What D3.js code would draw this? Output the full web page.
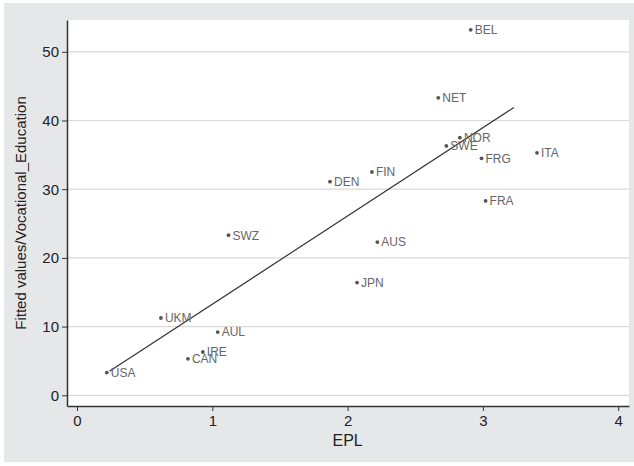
<!DOCTYPE html>
<html lang="en">
<head>
  <meta charset="UTF-8">
  <title>EPL vs Vocational Education</title>
  <script src="https://d3js.org/d3.v7.min.js"></script>
  <style>
    body { margin: 0; background: #fff; font-family: "Liberation Sans", Arial, sans-serif; }
    svg { display: block; }
  </style>
</head>
<body>
  <div id="vis"></div>

  <script>
    const countries = ["BEL", "NET", "NOR", "SWE", "FRG", "ITA", "FIN", "DEN", "FRA",
                       "AUS", "JPN", "SWZ", "UKM", "AUL", "IRE", "CAN", "USA"];
    const epl = [2.91, 2.67, 2.83, 2.73, 2.99, 3.40, 2.18, 1.87, 3.02,
                 2.22, 2.07, 1.12, 0.62, 1.04, 0.93, 0.82, 0.22];
    const vocEd = [53.2, 43.3, 37.5, 36.3, 34.5, 35.3, 32.5, 31.1, 28.3,
                   22.3, 16.4, 23.3, 11.25, 9.2, 6.3, 5.3, 3.3];
    // fitted values line, ends
    const fitX = [0.24, 3.23];
    const fitY = [3.5, 41.9];
    const xTicks = [0, 1, 2, 3, 4];
    const yTicks = [0, 10, 20, 30, 40, 50];

    const W = 634, H = 466;
    const plot = { left: 67, right: 629, top: 20, bottom: 406 };

    const svg = d3.select("#vis").append("svg")
      .attr("width", W)
      .attr("height", H);

    // outer gray panel
    svg.append("rect")
      .attr("x", 4).attr("y", 3)
      .attr("width", W - 4).attr("height", 459)
      .attr("fill", "#e6e7e9");

    svg.append("rect")
      .attr("x", plot.left).attr("y", plot.top)
      .attr("width", plot.right - plot.left).attr("height", plot.bottom - plot.top)
      .attr("fill", "#fff");

    const x = d3.scaleLinear()
      .domain([-0.074, 4.08])
      .range([plot.left, plot.right]);

    const y = d3.scaleLinear()
      .domain([-1.56, 54.63])
      .range([plot.bottom, plot.top]);

    // gridlines
    svg.append("g")
      .selectAll("line")
      .data(yTicks)
      .enter().append("line")
      .attr("x1", plot.left).attr("x2", plot.right)
      .attr("y1", d => y(d)).attr("y2", d => y(d))
      .attr("stroke", "#d9d9d9")
      .attr("stroke-width", 1.2);

    // axes
    const yAxis = svg.append("g")
      .attr("transform", `translate(${plot.left},0)`)
      .call(d3.axisLeft(y).tickValues(yTicks).tickFormat(d3.format("d"))
        .tickSize(5).tickPadding(3).tickSizeOuter(0));

    const xAxis = svg.append("g")
      .attr("transform", `translate(0,${plot.bottom})`)
      .call(d3.axisBottom(x).tickValues(xTicks).tickFormat(d3.format("d"))
        .tickSize(5).tickPadding(4).tickSizeOuter(0));

    [yAxis, xAxis].forEach(ax => {
      ax.select(".domain").attr("stroke", "#333").attr("stroke-width", 1.5);
      ax.selectAll(".tick line").attr("stroke", "#333").attr("stroke-width", 1);
      ax.selectAll(".tick text")
        .attr("fill", "#222")
        .style("font-size", "15px")
        .style("font-family", "Liberation Sans, Arial, sans-serif");
    });

    // axis titles
    svg.append("text")
      .attr("transform", `translate(26,${(plot.top + plot.bottom) / 2}) rotate(-90)`)
      .attr("text-anchor", "middle")
      .attr("fill", "#222")
      .style("font-size", "15px")
      .text("Fitted values/Vocational_Education");

    svg.append("text")
      .attr("x", x(2))
      .attr("y", 446)
      .attr("text-anchor", "middle")
      .attr("fill", "#222")
      .style("font-size", "16px")
      .text("EPL");

    // fitted line
    svg.append("line")
      .attr("x1", x(fitX[0])).attr("y1", y(fitY[0]))
      .attr("x2", x(fitX[1])).attr("y2", y(fitY[1]))
      .attr("stroke", "#333")
      .attr("stroke-width", 1.2);

    // points and labels
    const pts = countries.map((c, i) => ({ c, x: epl[i], y: vocEd[i] }));

    svg.append("g")
      .selectAll("circle")
      .data(pts)
      .enter().append("circle")
      .attr("cx", d => x(d.x))
      .attr("cy", d => y(d.y))
      .attr("r", 1.9)
      .attr("fill", "#555");

    svg.append("g")
      .selectAll("text")
      .data(pts)
      .enter().append("text")
      .attr("x", d => x(d.x) + 4)
      .attr("y", d => y(d.y))
      .attr("dy", "0.36em")
      .attr("fill", "#666")
      .style("font-size", "12px")
      .text(d => d.c);
  </script>
</body>
</html>
